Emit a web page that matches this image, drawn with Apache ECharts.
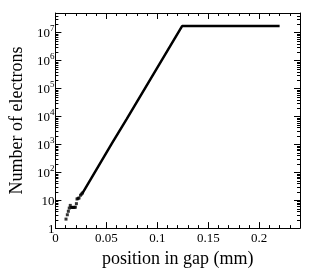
<!DOCTYPE html>
<html>
<head>
<meta charset="utf-8">
<script src="https://cdn.jsdelivr.net/npm/echarts@6/dist/echarts.min.js"></script>
<style>html,body{margin:0;padding:0;background:#fff}#c{width:316px;height:273px}</style>
</head>
<body>
<div id="c"></div>
<script>
// Early scattered points (position in gap, number of electrons)
var scatterX = [0.0104, 0.0117, 0.0127, 0.0136, 0.0146, 0.0156, 0.0166, 0.0176, 0.0186, 0.0196, 0.0206, 0.0212, 0.0222, 0.0232, 0.0246, 0.0256, 0.0266];
var scatterY = [2.1, 3.0, 4.0, 5.2, 6.5, 5.5, 5.5, 5.5, 5.5, 5.6, 7.5, 11, 11.5, 12, 15, 16.5, 18];
// Dense (continuous) part of the curve
var lineX = [0.0266, 0.0553, 0.0699, 0.1243, 0.2200];
var lineY = [18, 1050, 8000, 1.7e7, 1.7e7];
// Axis settings
var xTicks = [0, 0.05, 0.1, 0.15, 0.2];
var yMin = 1, yMax = 5e7;

var scatterData = scatterX.map(function (x, i) { return [x, scatterY[i]]; });
var lineData = lineX.map(function (x, i) { return [x, lineY[i]]; });

// log minor tick values (2..9 x 10^k)
var minorVals = [];
for (var k = 0; k < 8; k++) {
  for (var m = 2; m <= 9; m++) {
    var v = m * Math.pow(10, k);
    if (v < yMax) minorVals.push([0, v]);
  }
}

var font = 'Liberation Serif';
var chart = echarts.init(document.getElementById('c'), null, {renderer: 'canvas'});
var axisCommon = {
  type: 'value', min: 0, max: 0.24, interval: 0.05,
  axisLine: {show: true, onZero: false, lineStyle: {color: '#000', width: 1}},
  axisTick: {show: true, inside: true, length: 6, lineStyle: {color: '#000'}},
  minorTick: {show: true, splitNumber: 5, length: 3, lineStyle: {color: '#000'}},
  splitLine: {show: false}, minorSplitLine: {show: false}
};
var yCommon = {
  type: 'log', logBase: 10, min: yMin, max: yMax,
  axisLine: {show: true, onZero: false, lineStyle: {color: '#000', width: 1}},
  axisTick: {show: true, inside: true, length: 6, lineStyle: {color: '#000'}},
  minorTick: {show: false},
  splitLine: {show: false}
};
chart.setOption({
  backgroundColor: '#fff',
  animation: false,
  grid: {left: 53, right: 16, top: 13, bottom: 44},
  xAxis: [
    Object.assign({}, axisCommon, {
      position: 'bottom',
      name: 'position in gap (mm)', nameLocation: 'middle', nameGap: 20,
      nameTextStyle: {fontFamily: font, fontSize: 18, color: '#000'},
      axisLabel: {
        fontFamily: font, fontSize: 13, color: '#000', margin: 4,
        showMaxLabel: false,
        formatter: function (v) {
          for (var i = 0; i < xTicks.length; i++) if (Math.abs(v - xTicks[i]) < 1e-9) return String(xTicks[i]);
          return '';
        }
      }
    }),
    Object.assign({}, axisCommon, {position: 'top', axisLabel: {show: false}})
  ],
  yAxis: [
    Object.assign({}, yCommon, {
      position: 'left',
      name: 'Number of electrons', nameLocation: 'middle', nameGap: 29,
      nameTextStyle: {fontFamily: font, fontSize: 18, color: '#000'},
      axisLabel: {
        fontFamily: font, fontSize: 13, color: '#000', margin: 1,
        showMaxLabel: false,
        formatter: function (v) {
          var e = Math.round(Math.log10(v));
          if (Math.abs(Math.log10(v) - e) > 1e-6) return '';
          if (e === 0) return '{b|1}';
          if (e === 1) return '{b|10}';
          return '{b|10}{s|' + e + '}';
        },
        rich: {
          b: {fontFamily: font, fontSize: 13, color: '#000', padding: [3, 0, 0, 0]},
          s: {fontFamily: font, fontSize: 9, color: '#000', verticalAlign: 'top', padding: [0, 0, 4, 0]}
        }
      }
    }),
    Object.assign({}, yCommon, {position: 'right', axisLabel: {show: false}})
  ],
  series: [
    {
      type: 'custom', xAxisIndex: 0, yAxisIndex: 0, silent: true, clip: false,
      data: minorVals,
      renderItem: function (params, api) {
        var p0 = api.coord([0, api.value(1)]);
        var p1 = api.coord([0.24, api.value(1)]);
        var y = Math.round(p0[1]) + 0.5;
        return {
          type: 'group', children: [
            {type: 'line', shape: {x1: p0[0], y1: y, x2: p0[0] + 3, y2: y}, style: {stroke: '#000', lineWidth: 1}},
            {type: 'line', shape: {x1: p1[0] - 3, y1: y, x2: p1[0], y2: y}, style: {stroke: '#000', lineWidth: 1}}
          ]
        };
      }
    },
    {
      type: 'scatter', xAxisIndex: 0, yAxisIndex: 0,
      data: scatterData, symbol: 'rect', symbolSize: 3,
      itemStyle: {color: '#000'}
    },
    {
      type: 'line', xAxisIndex: 0, yAxisIndex: 0,
      data: lineData, showSymbol: false, smooth: false,
      lineStyle: {color: '#000', width: 2.5}
    }
  ]
});
</script>
</body>
</html>
